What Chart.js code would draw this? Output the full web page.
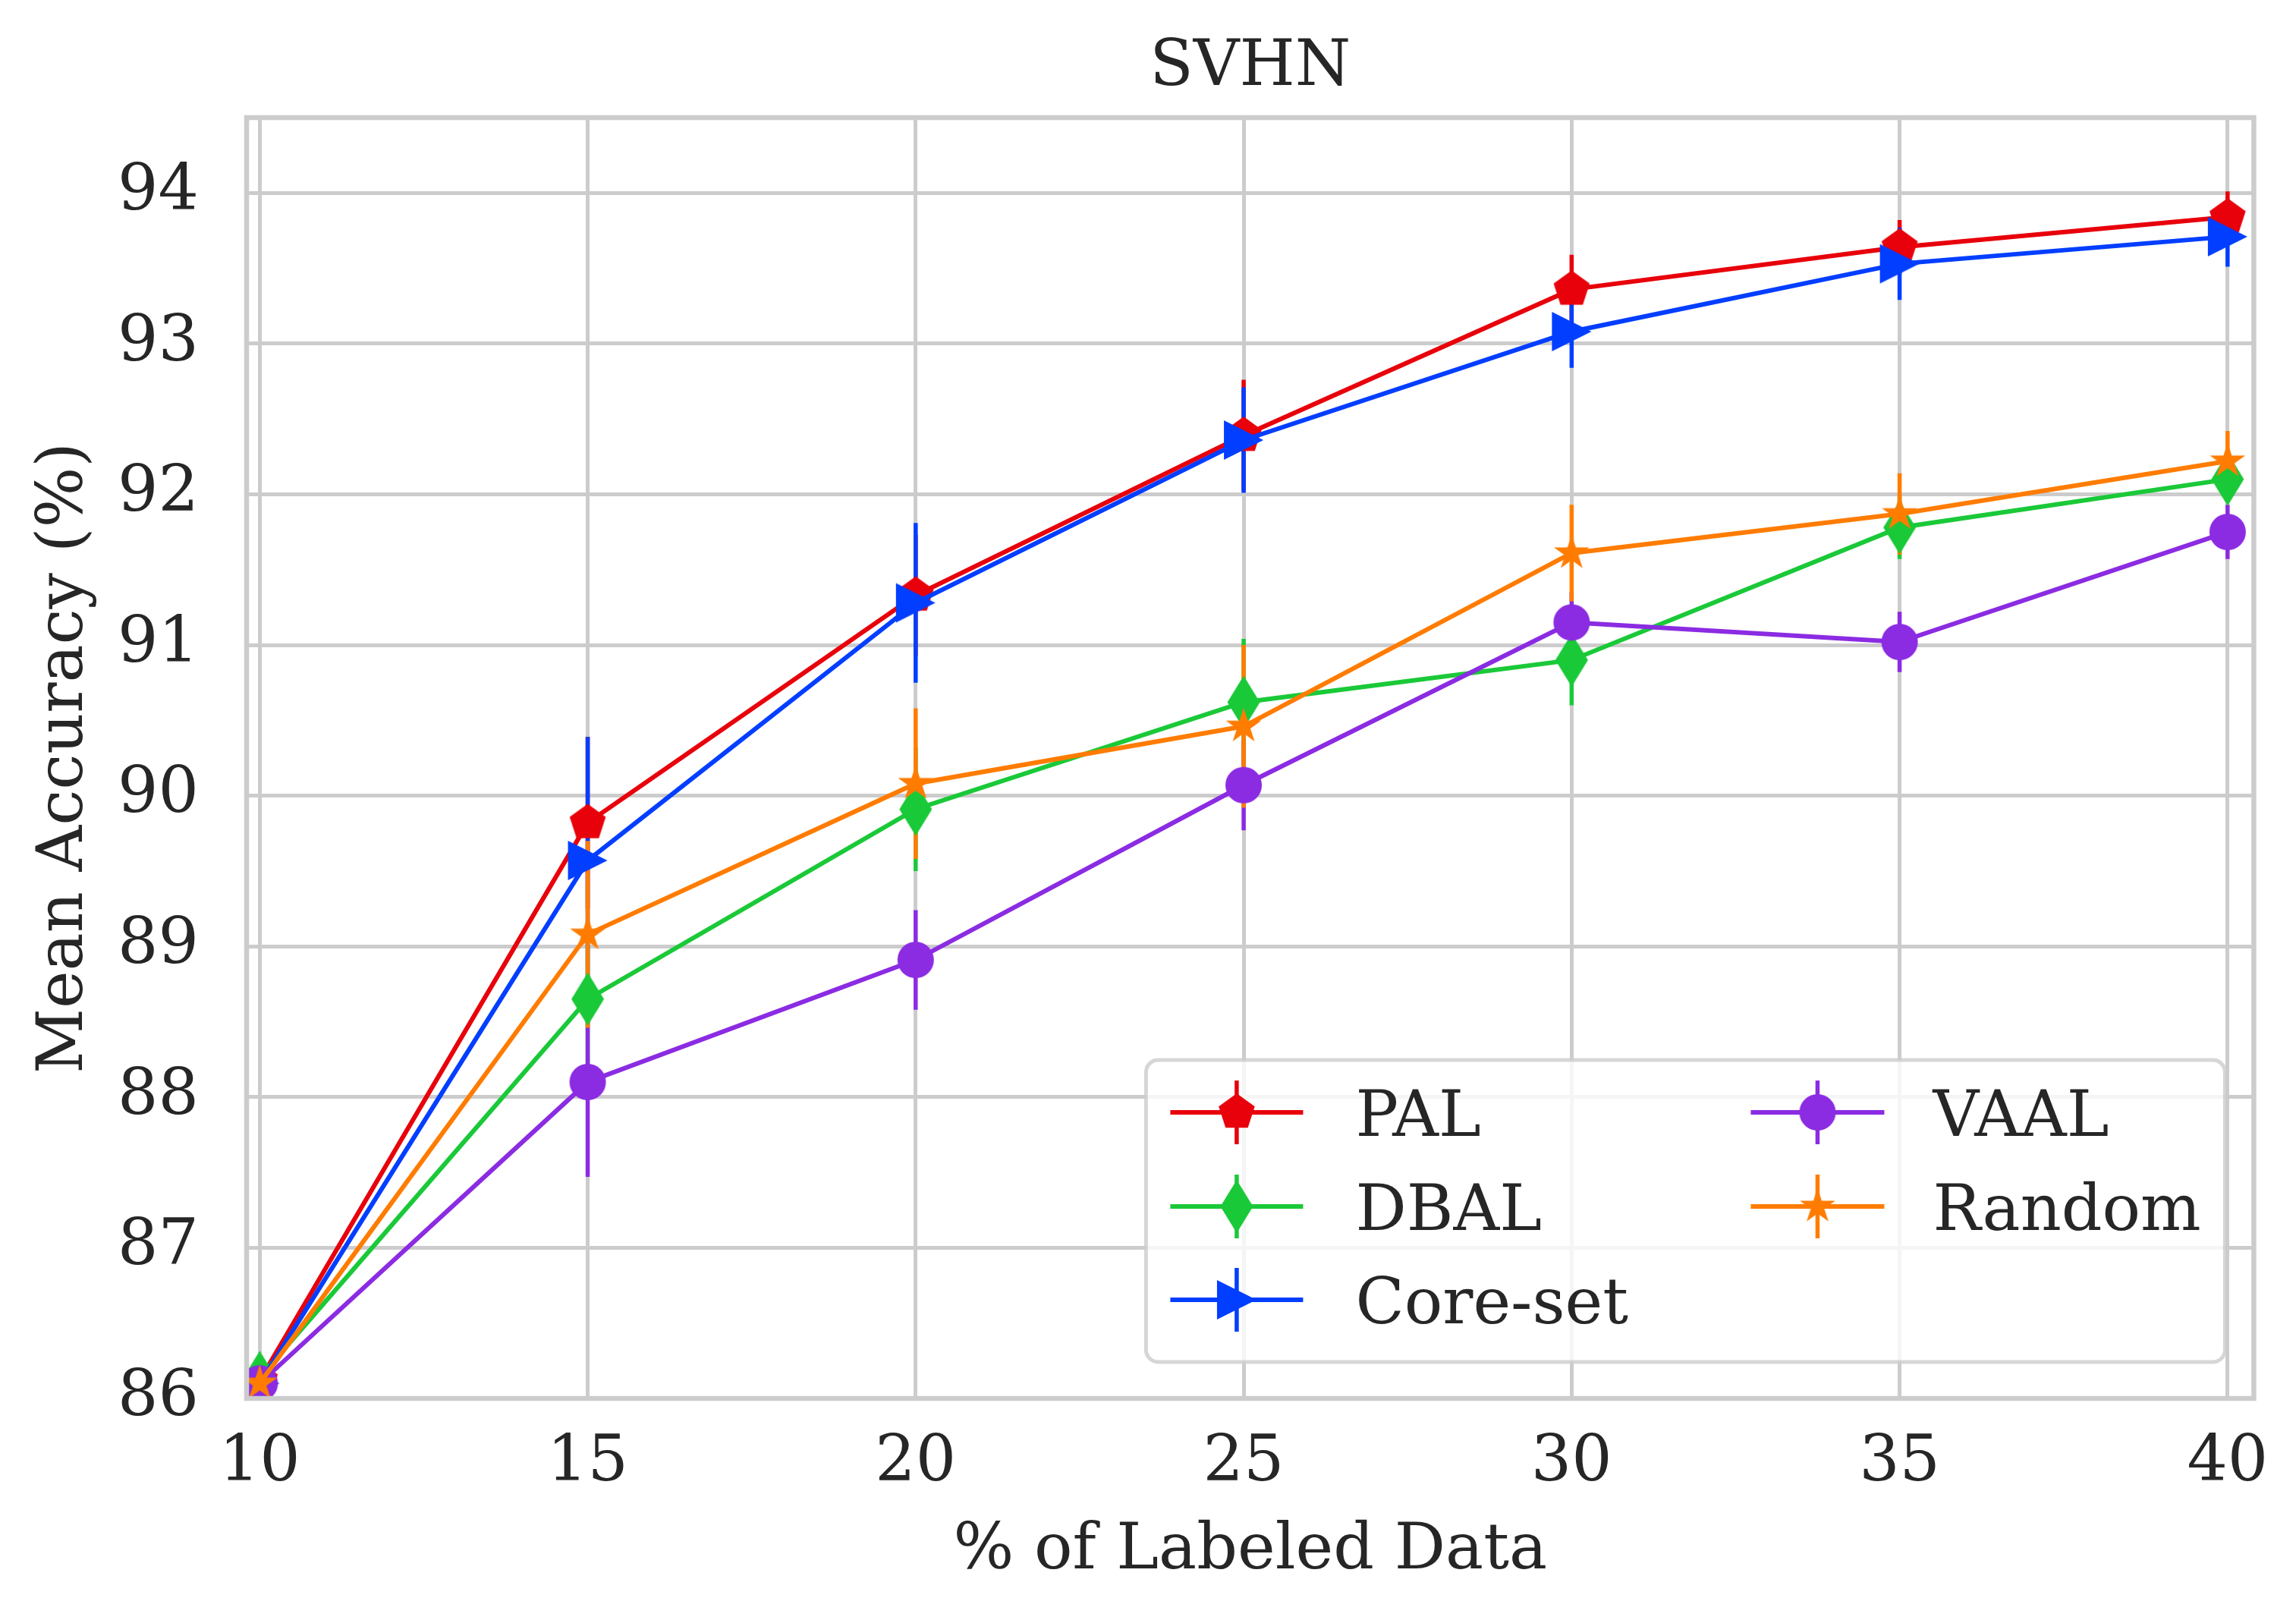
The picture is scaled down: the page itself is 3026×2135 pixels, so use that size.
<!DOCTYPE html>
<html>
<head>
<meta charset="utf-8">
<script src="https://cdn.jsdelivr.net/npm/chart.js"></script>
<style>
  html, body { margin: 0; padding: 0; background: #ffffff; }
  #wrap { width: 3026px; height: 2135px; }
</style>
</head>
<body>
<div id="wrap"><canvas id="svhnchart"></canvas></div>
<script>
// % of labeled data on the x axis
var labeled = [10, 15, 20, 25, 30, 35, 40];
var xticks = [10, 15, 20, 25, 30, 35, 40];
var yticks = [86, 87, 88, 89, 90, 91, 92, 93, 94];

var names = ['PAL', 'DBAL', 'Core-set', 'VAAL', 'Random'];

// mean accuracy and its error
var pal       = [86.12, 89.82, 91.33, 92.39, 93.36, 93.64, 93.84];
var palerr    = [0.04, 0.57, 0.40, 0.37, 0.23, 0.18, 0.17];
var dbal      = [86.14, 88.65, 89.91, 90.62, 90.90, 91.78, 92.10];
var dbalerr   = [0.04, 0.45, 0.41, 0.42, 0.30, 0.21, 0.15];
var coreset   = [86.10, 89.57, 91.28, 92.36, 93.08, 93.53, 93.71];
var coreseterr= [0.04, 0.82, 0.53, 0.35, 0.24, 0.24, 0.20];
var vaal      = [86.10, 88.10, 88.91, 90.07, 91.15, 91.02, 91.75];
var vaalerr   = [0.04, 0.63, 0.33, 0.30, 0.20, 0.20, 0.18];
var random    = [86.10, 89.08, 90.08, 90.46, 91.61, 91.87, 92.22];
var randomerr = [0.04, 0.62, 0.50, 0.54, 0.32, 0.27, 0.20];

var values = [pal, dbal, coreset, vaal, random];
var errors = [palerr, dbalerr, coreseterr, vaalerr, randomerr];
var colours = ['#e8000b', '#1ac938', '#023eff', '#8b2be2', '#ff7c00'];

var fontfamily = "'DejaVu Serif', serif";
var textcolour = '#262626';

// marker pictures (matplotlib style symbols)
function markercanvas(colour, size, draw) {
  var c = document.createElement('canvas');
  c.width = size;
  c.height = size;
  var ctx = c.getContext('2d');
  ctx.translate(size / 2, size / 2);
  ctx.fillStyle = colour;
  ctx.beginPath();
  draw(ctx);
  ctx.closePath();
  ctx.fill();
  return c;
}
function pentagon(r) {
  return function(ctx) {
    for (var i = 0; i < 5; i++) {
      var a = -Math.PI / 2 + i * 2 * Math.PI / 5;
      ctx.lineTo(r * Math.cos(a), r * Math.sin(a));
    }
  };
}
function star(r) {
  return function(ctx) {
    for (var i = 0; i < 10; i++) {
      var a = -Math.PI / 2 + i * Math.PI / 5;
      var rr = (i % 2 === 0) ? r : r * 0.381966;
      ctx.lineTo(rr * Math.cos(a), rr * Math.sin(a));
    }
  };
}
function thindiamond(w, h) {
  return function(ctx) {
    ctx.moveTo(0, -h / 2);
    ctx.lineTo(w / 2, 0);
    ctx.lineTo(0, h / 2);
    ctx.lineTo(-w / 2, 0);
  };
}
function triangleright(w, h) {
  return function(ctx) {
    ctx.moveTo(w / 2, 0);
    ctx.lineTo(-w / 2, -h / 2);
    ctx.lineTo(-w / 2, h / 2);
  };
}
function circle(r) {
  return function(ctx) {
    ctx.arc(0, 0, r, 0, 2 * Math.PI);
  };
}

var markers = [
  markercanvas(colours[0], 56, pentagon(25)),
  markercanvas(colours[1], 76, thindiamond(43, 70)),
  markercanvas(colours[2], 58, triangleright(52, 52)),
  markercanvas(colours[3], 54, circle(24)),
  markercanvas(colours[4], 56, star(24.5))
];

var datasets = names.map(function(name, i) {
  return {
    label: name,
    data: labeled.map(function(x, j) { return {x: x, y: values[i][j]}; }),
    borderColor: colours[i],
    backgroundColor: colours[i],
    borderWidth: 6,
    tension: 0,
    fill: false,
    pointStyle: markers[i],
    pointRadius: 24,
    clip: 0,
    order: names.length - i   // later series on top, like matplotlib
  };
});

// vertical error bars, drawn under all lines
var errorbars = {
  id: 'errorbars',
  beforeDatasetsDraw: function(chart) {
    var ctx = chart.ctx;
    var xs = chart.scales.x, ys = chart.scales.y, area = chart.chartArea;
    ctx.save();
    ctx.beginPath();
    ctx.rect(area.left, area.top, area.right - area.left, area.bottom - area.top);
    ctx.clip();
    ctx.lineWidth = 5.5;
    ctx.lineCap = 'butt';
    for (var i = 0; i < values.length; i++) {
      ctx.strokeStyle = colours[i];
      for (var j = 0; j < labeled.length; j++) {
        var x = xs.getPixelForValue(labeled[j]);
        ctx.beginPath();
        ctx.moveTo(x, ys.getPixelForValue(values[i][j] - errors[i][j]));
        ctx.lineTo(x, ys.getPixelForValue(values[i][j] + errors[i][j]));
        ctx.stroke();
      }
    }
    ctx.restore();
  }
};

// four grey spines + legend box in two columns
var frameandlegend = {
  id: 'frameandlegend',
  afterDatasetsDraw: function(chart) {
    var ctx = chart.ctx, area = chart.chartArea;
    ctx.save();
    ctx.strokeStyle = '#cccccc';
    ctx.lineWidth = 6.5;
    ctx.strokeRect(area.left, area.top, area.right - area.left, area.bottom - area.top);

    var w = 1422, h = 398;
    var right = area.right - 38, bottom = area.bottom - 48;
    var left = right - w, top = bottom - h;
    ctx.beginPath();
    ctx.roundRect(left, top, w, h, 16);
    ctx.fillStyle = 'rgba(255,255,255,0.8)';
    ctx.fill();
    ctx.strokeStyle = 'rgba(204,204,204,0.8)';
    ctx.lineWidth = 5;
    ctx.stroke();

    var rows = [69, 193, 316];
    var cols = [{a: 32, b: 207, t: 276}, {a: 797, b: 973, t: 1037}];
    ctx.font = '84px ' + fontfamily;
    ctx.textBaseline = 'alphabetic';
    ctx.textAlign = 'left';
    for (var i = 0; i < names.length; i++) {
      var col = cols[i < 3 ? 0 : 1];
      var cy = top + rows[i < 3 ? i : i - 3];
      var x1 = left + col.a, x2 = left + col.b, cx = (x1 + x2) / 2;
      ctx.strokeStyle = colours[i];
      ctx.lineWidth = 5.5;
      ctx.beginPath();
      ctx.moveTo(cx, cy - 42);
      ctx.lineTo(cx, cy + 42);
      ctx.stroke();
      ctx.lineWidth = 6;
      ctx.beginPath();
      ctx.moveTo(x1, cy);
      ctx.lineTo(x2, cy);
      ctx.stroke();
      ctx.drawImage(markers[i], cx - markers[i].width / 2, cy - markers[i].height / 2);
      ctx.fillStyle = textcolour;
      ctx.fillText(names[i], left + col.t, cy + 31);
    }
    ctx.restore();
  }
};

var svhnchart = new Chart(document.getElementById('svhnchart').getContext('2d'), {
  type: 'line',
  data: { datasets: datasets },
  plugins: [errorbars, frameandlegend],
  options: {
    responsive: true,
    maintainAspectRatio: false,
    devicePixelRatio: 1,
    animation: false,
    events: [],
    layout: { padding: { left: 0, right: 55, top: 0, bottom: 0 } },
    plugins: {
      legend: { display: false },
      tooltip: { enabled: false },
      title: {
        display: true,
        fullSize: false,
        text: 'SVHN',
        color: textcolour,
        font: { family: fontfamily, size: 84, weight: 'normal' },
        padding: { top: 40, bottom: 14.2 }
      }
    },
    scales: {
      x: {
        type: 'linear',
        min: 9.8,
        max: 40.4,
        afterBuildTicks: function(scale) {
          scale.ticks = xticks.map(function(v) { return {value: v}; });
        },
        afterFit: function(scale) { scale.height = 292; },
        grid: { color: '#cccccc', lineWidth: 5, drawTicks: false },
        border: { display: false },
        ticks: {
          color: textcolour,
          padding: 36,
          maxRotation: 0,
          font: { family: fontfamily, size: 84 }
        },
        title: {
          display: true,
          text: '% of Labeled Data',
          color: textcolour,
          font: { family: fontfamily, size: 84 },
          padding: { top: 0, bottom: 39 }
        }
      },
      y: {
        type: 'linear',
        min: 86,
        max: 94.5,
        afterBuildTicks: function(scale) {
          scale.ticks = yticks.map(function(v) { return {value: v}; });
        },
        afterFit: function(scale) { scale.width = 325; },
        grid: { color: '#cccccc', lineWidth: 5, drawTicks: false },
        border: { display: false },
        ticks: {
          color: textcolour,
          padding: 63,
          font: { family: fontfamily, size: 84 }
        },
        title: {
          display: true,
          text: 'Mean Accuracy (%)',
          color: textcolour,
          font: { family: fontfamily, size: 84 },
          padding: { top: 36, bottom: 0 }
        }
      }
    }
  }
});
</script>
</body>
</html>
